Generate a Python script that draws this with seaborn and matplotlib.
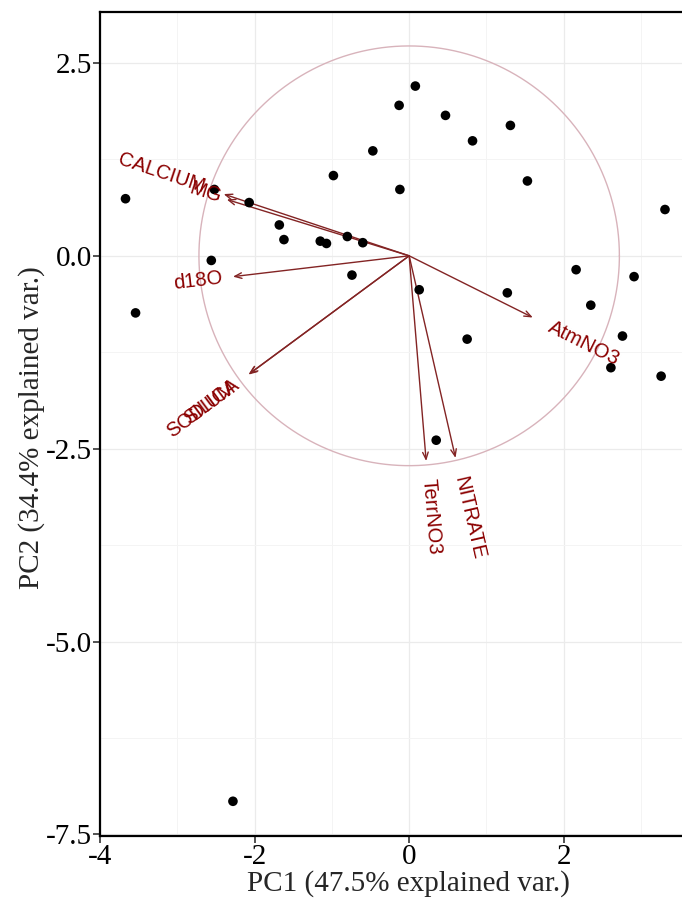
import numpy as np
import pandas as pd
import seaborn as sns
import matplotlib.pyplot as plt
from matplotlib.textpath import TextPath
from matplotlib.font_manager import FontProperties

# sample scores (PC1, PC2)
pc1 = [-3.67, -3.54, -2.52, -2.56, -2.07, -1.68, -1.62, -1.15, -1.07, -0.98, -0.80,
       -0.74, -0.60, -0.47, -0.13, -0.12, 0.08, 0.13, 0.47, 0.82, 0.75, 0.35, 1.31,
       1.27, 1.53, 2.16, 2.35, 2.76, 2.61, 2.91, 3.26, 3.31, -2.28]
pc2 = [0.74, -0.74, 0.86, -0.06, 0.69, 0.40, 0.21, 0.19, 0.16, 1.04, 0.25,
       -0.25, 0.17, 1.36, 1.95, 0.86, 2.20, -0.44, 1.82, 1.49, -1.08, -2.39, 1.69,
       -0.48, 0.97, -0.18, -0.64, -1.04, -1.45, -0.27, -1.56, 0.60, -7.07]

# variable loadings (arrow tips)
var_names = ["CALCIUM", "MG", "d18O", "SODIUM", "SILICA", "AtmNO3", "TerrNO3", "NITRATE"]
var_x = [-2.40, -2.36, -2.28, -2.08, -2.07, 1.60, 0.22, 0.60]
var_y = [0.80, 0.73, -0.27, -1.54, -1.53, -0.80, -2.66, -2.62]

circle_r = 2.72

sns.set_style("white")
plt.rcParams["axes.unicode_minus"] = False

fig = plt.figure(figsize=(6.82, 8.99), dpi=100)
ax = fig.add_axes([100 / 682, 1 - 836 / 899, 616 / 682, 824 / 899])

df = pd.DataFrame({"PC1": pc1, "PC2": pc2})

# grid
for v in [-4, -2, 0, 2]:
    ax.axvline(v, color="#ebebeb", lw=0.9, zorder=0)
for v in [-3, -1, 1, 3]:
    ax.axvline(v, color="#f4f4f4", lw=0.7, zorder=0)
for v in [2.5, 0, -2.5, -5, -7.5]:
    ax.axhline(v, color="#ebebeb", lw=0.9, zorder=0)
for v in [1.25, -1.25, -3.75, -6.25]:
    ax.axhline(v, color="#f4f4f4", lw=0.7, zorder=0)

# correlation circle
t = np.linspace(0, 2 * np.pi, 400)
ax.plot(circle_r * np.cos(t), circle_r * np.sin(t), color="#d8b3bb", lw=1.0, zorder=1)

sns.scatterplot(data=df, x="PC1", y="PC2", color="black", s=48, edgecolor="none",
                ax=ax, zorder=3)

# arrows and labels
lab_font = FontProperties(family="Liberation Sans", size=14.5)
for name, x, y in zip(var_names, var_x, var_y):
    ax.annotate("", xy=(x, y), xytext=(0, 0),
                arrowprops=dict(arrowstyle="->,head_length=0.5,head_width=0.2",
                                color="#832424", lw=1.0, shrinkA=0, shrinkB=0),
                zorder=2)
    angle = np.degrees(np.arctan(y / x))
    w = TextPath((0, 0), name, prop=lab_font).get_extents().width
    u = np.array([x, y]) / np.hypot(x, y)
    off = 0.75 * w
    ax.annotate(name, xy=(x, y), xytext=(u[0] * off, u[1] * off),
                textcoords="offset points", ha="center", va="center",
                rotation=angle, rotation_mode="anchor", color="darkred",
                fontproperties=lab_font, zorder=4)

ax.set_xlim(-4.0, 3.97)
ax.set_ylim(-7.52, 3.16)
ax.set_xticks([-4, -2, 0, 2])
ax.set_xticklabels(["-4", "-2", "0", "2"])
ax.set_yticks([2.5, 0, -2.5, -5, -7.5])
ax.set_yticklabels(["2.5", "0.0", "-2.5", "-5.0", "-7.5"])

title_font = {"family": "Liberation Serif", "size": 21}
for lab in ax.get_xticklabels() + ax.get_yticklabels():
    lab.set_fontfamily("Liberation Serif")
    lab.set_fontsize(21)
    lab.set_color("black")
ax.tick_params(axis="both", direction="out", length=5, width=1.2, color="#333333",
               pad=1, left=True, bottom=True)

ax.set_xlabel("PC1 (47.5% explained var.)", fontdict=title_font, labelpad=0)
ax.set_ylabel("PC2 (34.4% explained var.)", fontdict=title_font, labelpad=0)
ax.yaxis.set_label_coords(-0.09, 0.495)

for s in ["left", "bottom", "top"]:
    ax.spines[s].set_visible(True)
    ax.spines[s].set_color("black")
    ax.spines[s].set_linewidth(1.6)
ax.spines["right"].set_visible(False)

fig.savefig("out.png", dpi=100)
